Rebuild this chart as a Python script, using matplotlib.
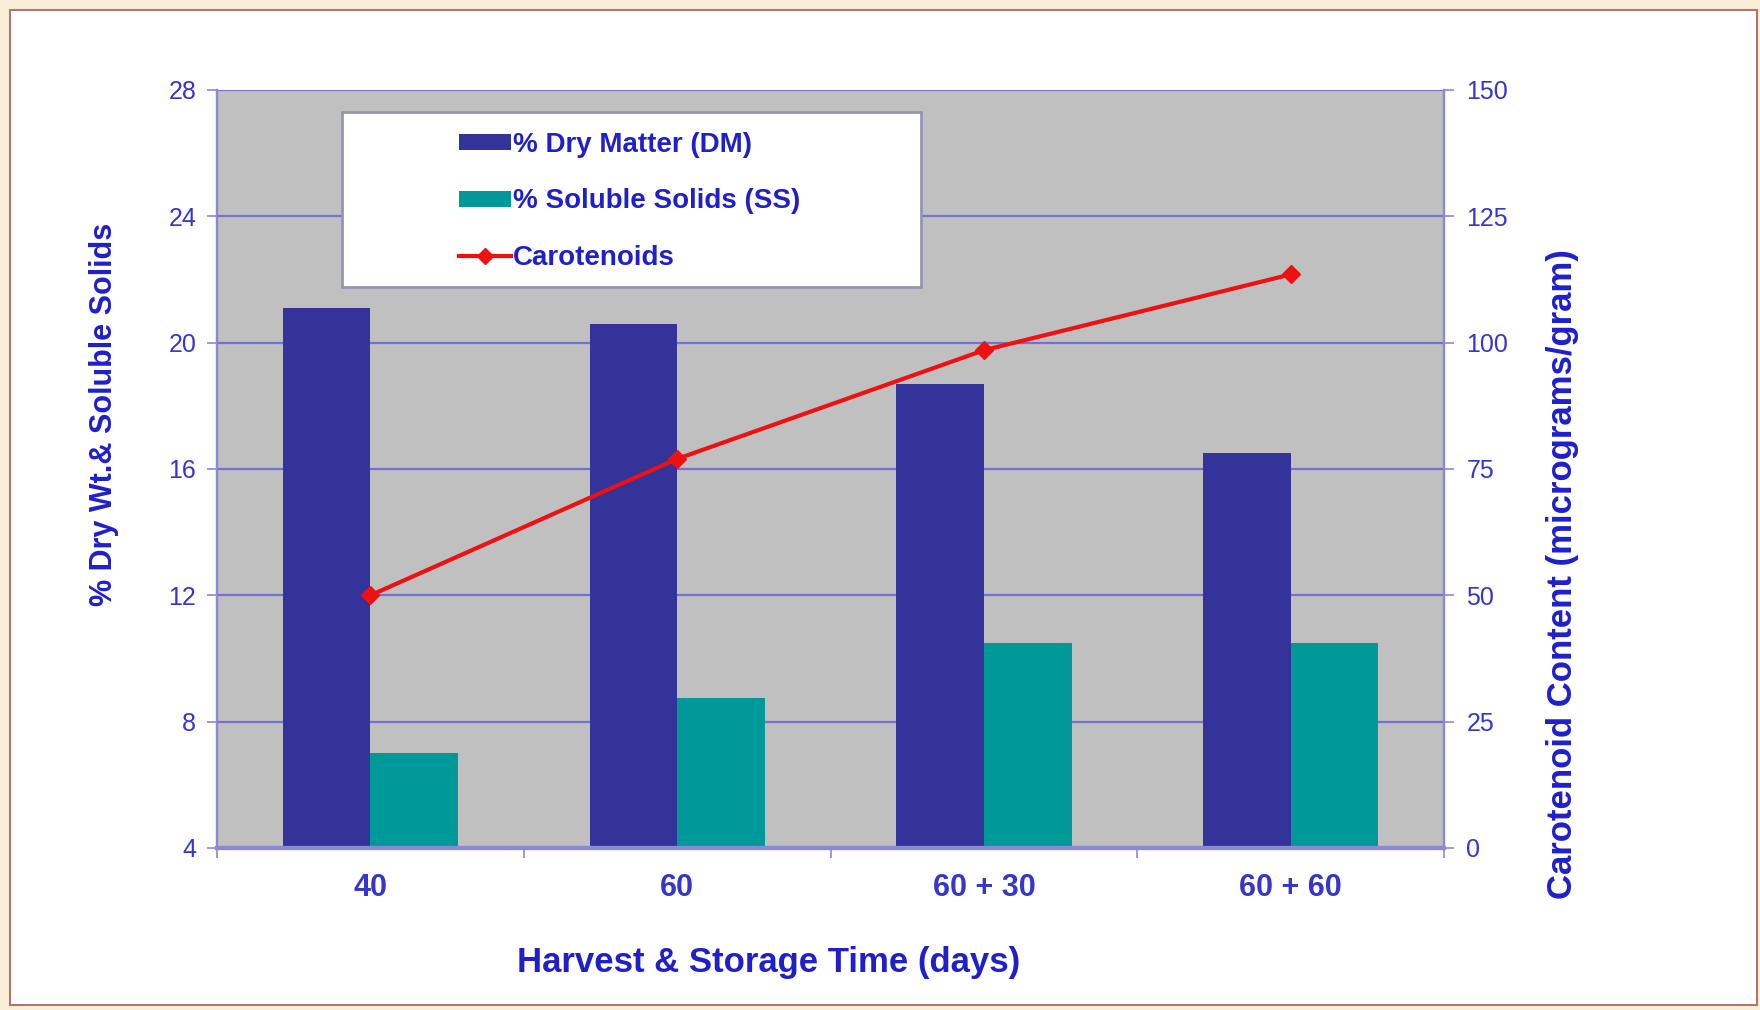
import matplotlib
matplotlib.use("Agg")
import matplotlib.pyplot as plt
import numpy as np
from matplotlib.patches import Rectangle, Patch
from matplotlib.lines import Line2D

plt.rcParams["font.family"] = ["Liberation Sans", "DejaVu Sans"]

# ---------------------------------------------------------------------------
# Data
# ---------------------------------------------------------------------------
periods = ["40", "60", "60 + 30", "60 + 60"]
dry_matter = [21.1, 20.6, 18.7, 16.5]        # % DM
soluble_solids = [7.0, 8.75, 10.5, 10.5]     # % SS
carotenoids = [50, 77, 98.5, 113.5]          # micrograms/gram

DM_COLOR = "#333399"
SS_COLOR = "#009999"
CAR_COLOR = "#ee1111"
PLOT_BG = "#c0c0c0"
GRID_COLOR = "#7272d4"
SPINE_COLOR = "#8a8ad2"
TICK_COLOR = "#3636cc"
LABEL_COLOR = "#1f1fcc"

# ---------------------------------------------------------------------------
# Layout
# ---------------------------------------------------------------------------
fig = plt.figure(figsize=(17.6, 10.1), dpi=100)
fig.patch.set_facecolor("#fbeed6")
fig.patches.append(Rectangle((10 / 1760, 5 / 1010), 1747 / 1760, 995 / 1010,
                             transform=fig.transFigure, facecolor="white",
                             edgecolor="#b07474", linewidth=1.5, zorder=-10))

ax = fig.add_axes([0.1233, 0.1604, 0.6972, 0.7505])
ax.set_facecolor(PLOT_BG)
ax.set_axisbelow(True)

x = np.arange(len(periods))
w = 1 / 3.5
ax.bar(x - w / 2, dry_matter, w, color=DM_COLOR, zorder=2)
ax.bar(x + w / 2, soluble_solids, w, color=SS_COLOR, zorder=2)

ax.set_ylim(4, 28)
ax.set_xlim(-0.5, len(periods) - 0.5)
ax.set_yticks([4, 8, 12, 16, 20, 24, 28])
ax.yaxis.grid(True, color=GRID_COLOR, linewidth=1.6)

# category boundaries carry the tick marks, centres carry the labels
ax.set_xticks(np.arange(-0.5, len(periods)), labels=[])
ax.set_xticks(x, labels=periods, minor=True)
ax.tick_params(axis="x", which="major", length=7, width=1.2, color=SPINE_COLOR)
ax.tick_params(axis="x", which="minor", length=0, pad=18, labelsize=22,
               labelcolor=TICK_COLOR)
for lbl in ax.get_xticklabels(minor=True):
    lbl.set_fontweight("bold")
ax.tick_params(axis="y", length=7, width=1.2, color=SPINE_COLOR, pad=8,
               labelsize=18, labelcolor=TICK_COLOR)

for side in ["left", "bottom", "right"]:
    ax.spines[side].set_color(SPINE_COLOR)
    ax.spines[side].set_linewidth(1.6)
ax.spines["bottom"].set_linewidth(3)
ax.spines["top"].set_visible(False)

# ---------------------------------------------------------------------------
# Carotenoids on the secondary axis
# ---------------------------------------------------------------------------
ax2 = ax.twinx()
ax2.plot(x, carotenoids, color=CAR_COLOR, linewidth=3, marker="D",
         markersize=9, zorder=3)
ax2.set_ylim(0, 150)
ax2.set_yticks([0, 25, 50, 75, 100, 125, 150])
ax2.tick_params(axis="y", length=7, width=1.2, color=SPINE_COLOR, pad=9,
                labelsize=18, labelcolor=TICK_COLOR)
for side in ["left", "bottom", "right"]:
    ax2.spines[side].set_color(SPINE_COLOR)
    ax2.spines[side].set_linewidth(1.6)
ax2.spines["bottom"].set_linewidth(3)
ax2.spines["top"].set_visible(False)

# ---------------------------------------------------------------------------
# Legend
# ---------------------------------------------------------------------------
ax2.add_patch(Rectangle((0.102, 0.740), 0.472, 0.231, transform=ax2.transAxes,
                        facecolor="white", edgecolor="#9494b8", linewidth=2,
                        zorder=4))
handles = [
    Patch(facecolor=DM_COLOR, label="% Dry Matter (DM)"),
    Patch(facecolor=SS_COLOR, label="% Soluble Solids (SS)"),
    Line2D([], [], color=CAR_COLOR, linewidth=3, marker="D", markersize=8,
           label="Carotenoids"),
]
leg = ax2.legend(handles=handles, loc="upper left",
                 bbox_to_anchor=(0.186, 0.963), frameon=False,
                 prop={"weight": "bold", "size": 20}, labelcolor=LABEL_COLOR,
                 handlelength=1.85, handleheight=0.5, handletextpad=0.08,
                 labelspacing=1.1, borderpad=0)
leg.set_zorder(5)

# ---------------------------------------------------------------------------
# Axis titles
# ---------------------------------------------------------------------------
fig.text(0.437, 0.0475, "Harvest & Storage Time (days)", ha="center",
         va="center", fontsize=25, fontweight="bold", color=LABEL_COLOR)
fig.text(0.0591, 0.590, "% Dry Wt.& Soluble Solids", ha="center",
         va="center", rotation=90, fontsize=22, fontweight="bold",
         color=LABEL_COLOR)
fig.text(0.8875, 0.432, "Carotenoid Content (micrograms/gram)", ha="center",
         va="center", rotation=90, fontsize=25, fontweight="bold",
         color=LABEL_COLOR)

fig.savefig("out.png", dpi=100, facecolor=fig.get_facecolor())
